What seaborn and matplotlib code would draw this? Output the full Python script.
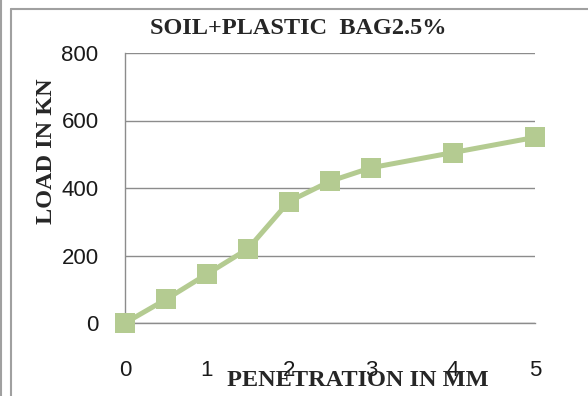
import matplotlib
matplotlib.use("Agg")
import matplotlib.pyplot as plt
from matplotlib.lines import Line2D
import seaborn as sns
import pandas as pd

penetration = [0, 0.5, 1, 1.5, 2, 2.5, 3, 4, 5]
load = [0, 70, 145, 220, 360, 420, 460, 505, 550]
x_ticks = [0, 1, 2, 3, 4, 5]
y_ticks = [0, 200, 400, 600, 800]
title = "SOIL+PLASTIC  BAG2.5%"
xlabel = "PENETRATION IN MM"
ylabel = "LOAD IN KN"

sns.set_style("white")
plt.rcParams['font.family'] = ['Liberation Sans', 'DejaVu Sans']

df = pd.DataFrame({"pen": penetration, "load": load})

fig = plt.figure(figsize=(5.88, 3.96), dpi=100)
ax = fig.add_axes([125/588, 1-323/396, 410/588, 270/396])

green = "#b4cb91"
grid_c = "#8c8c8c"

sns.lineplot(data=df, x="pen", y="load", ax=ax, color=green, linewidth=3.6,
             marker="s", markersize=14, markeredgewidth=0, markerfacecolor=green,
             clip_on=False, zorder=5)

ax.set_xlim(0, 5)
ax.set_ylim(0, 800)
ax.set_xticks(x_ticks)
ax.set_yticks(y_ticks)
ax.set_xticklabels([str(v) for v in x_ticks])
ax.set_yticklabels([str(v) for v in y_ticks])
ax.yaxis.grid(True, color=grid_c, linewidth=1.0)
ax.xaxis.grid(False)
for s in ["top", "right"]:
    ax.spines[s].set_visible(False)
for s in ["left", "bottom"]:
    ax.spines[s].set_color(grid_c)
    ax.spines[s].set_linewidth(1.0)
ax.tick_params(axis="x", direction="out", length=7, width=1.0, color=grid_c,
               pad=20, labelsize=16, labelcolor="#1a1a1a")
ax.tick_params(axis="y", direction="out", length=7, width=1.0, color=grid_c,
               pad=12, labelsize=16, labelcolor="#1a1a1a")
ax.set_xlabel("")
ax.set_ylabel("")

serif = ['Liberation Serif', 'DejaVu Serif']
fig.text(298/588, 1-29/396, title, family=serif, weight="bold", fontsize=17.5,
         ha="center", va="center")
fig.text(358/588, 1-381/396, xlabel, family=serif, weight="bold", fontsize=17.5,
         ha="center", va="center")
fig.text(47/588, 1-151/396, ylabel, family=serif, weight="bold", fontsize=17.5,
         ha="center", va="center", rotation=90)

border_c = "#a0a0a0"
fig.add_artist(Line2D([1.5/588, 1.5/588], [0, 1], transform=fig.transFigure,
                      color=border_c, linewidth=1.5))
fig.add_artist(Line2D([11/588, 11/588], [0, 1-9/396], transform=fig.transFigure,
                      color=border_c, linewidth=1.5))
fig.add_artist(Line2D([11/588, 1], [1-9/396, 1-9/396], transform=fig.transFigure,
                      color=border_c, linewidth=1.5))

fig.savefig("out.png", dpi=100)
